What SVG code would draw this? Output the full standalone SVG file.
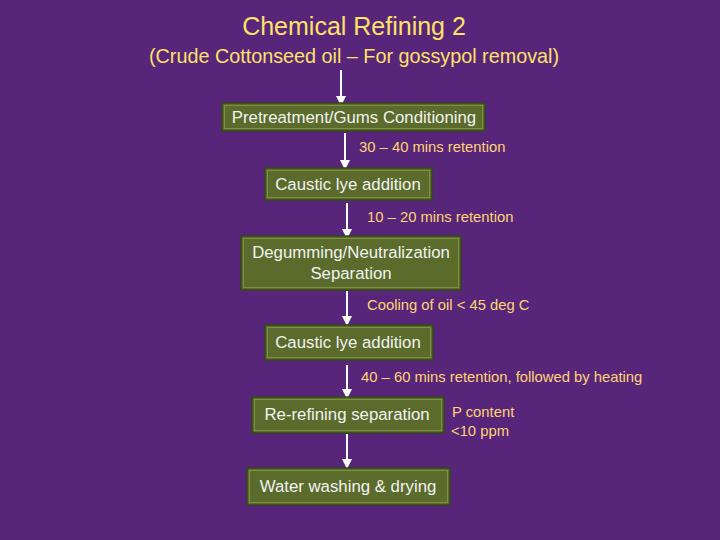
<svg xmlns="http://www.w3.org/2000/svg" width="720" height="540" viewBox="0 0 720 540">
<defs>
<marker id="ah" markerWidth="10" markerHeight="10" refX="5" refY="5" orient="auto" markerUnits="userSpaceOnUse" viewBox="0 0 10 10"><path d="M0,0 L10,5 L0,10 z" fill="#ffffff"/></marker>
</defs>
<style>
.t{font-family:"Liberation Sans",Arial,sans-serif;fill:#ffe168;text-anchor:middle}
.box{fill:#5a6b2b;stroke:#37451a;stroke-width:1.5}
.inner{fill:none;stroke:#7f9045;stroke-width:1}
.bt{font-family:"Liberation Sans",Arial,sans-serif;font-size:16.8px;fill:#f2f2f2;text-anchor:middle}
.lb{font-family:"Liberation Sans",Arial,sans-serif;font-size:14.8px;fill:#ffd474}
.c{stroke:#ffffff;stroke-width:2;fill:none;marker-end:url(#ah)}
</style>
<rect width="720" height="540" fill="#57267a"/>
<text class="t" x="354" y="35" font-size="25">Chemical Refining 2</text>
<text class="t" x="354" y="63" font-size="19.8">(Crude Cottonseed oil – For gossypol removal)</text>
<g id="connectors">
<line class="c" x1="341" y1="70" x2="341" y2="101"/>
<line class="c" x1="345" y1="133" x2="345" y2="165"/>
<line class="c" x1="347" y1="203" x2="347" y2="234"/>
<line class="c" x1="347" y1="291" x2="347" y2="321"/>
<line class="c" x1="347" y1="365" x2="347" y2="394"/>
<line class="c" x1="347" y1="434" x2="347" y2="464"/>
</g>
<g id="n1"><rect class="box" x="222" y="103" width="263" height="28"/><rect class="inner" x="224.5" y="105.5" width="258" height="23"/><text class="bt" x="354" y="123">Pretreatment/Gums Conditioning</text></g>
<text class="lb" x="359" y="152">30 – 40 mins retention</text>
<g id="n2"><rect class="box" x="265" y="168" width="167" height="32"/><rect class="inner" x="267.5" y="170.5" width="162" height="27"/><text class="bt" x="348" y="190">Caustic lye addition</text></g>
<text class="lb" x="367" y="222">10 – 20 mins retention</text>
<g id="n3"><rect class="box" x="241" y="236" width="220" height="54"/><rect class="inner" x="243.5" y="238.5" width="215" height="49"/><text class="bt" x="351" y="258">Degumming/Neutralization</text><text class="bt" x="351" y="279">Separation</text></g>
<text class="lb" x="367" y="310">Cooling of oil &lt; 45 deg C</text>
<g id="n4"><rect class="box" x="265" y="325" width="168" height="35"/><rect class="inner" x="267.5" y="327.5" width="163" height="30"/><text class="bt" x="348" y="348">Caustic lye addition</text></g>
<text class="lb" x="361" y="382">40 – 60 mins retention, followed by heating</text>
<g id="n5"><rect class="box" x="252" y="397" width="192" height="36"/><rect class="inner" x="254.5" y="399.5" width="187" height="31"/><text class="bt" x="347" y="420">Re-refining separation</text></g>
<text class="lb" x="452" y="417">P content</text>
<text class="lb" x="451" y="436">&lt;10 ppm</text>
<g id="n6"><rect class="box" x="247" y="468" width="203" height="37"/><rect class="inner" x="249.5" y="470.5" width="198" height="32"/><text class="bt" x="348" y="492">Water washing &amp; drying</text></g>
</svg>
